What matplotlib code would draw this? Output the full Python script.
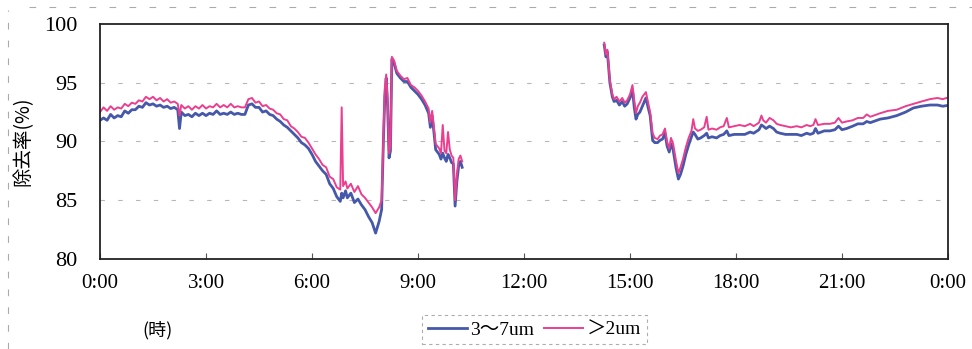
import numpy as np
import matplotlib.pyplot as plt
from matplotlib.lines import Line2D

# data (hours, removal rate %)
hours = [0.00, 0.10, 0.20, 0.30, 0.40, 0.50, 0.60, 0.70, 0.80, 0.90,
         1.00, 1.10, 1.20, 1.30, 1.40, 1.50, 1.60, 1.70, 1.80, 1.90,
         2.00, 2.10, 2.20, 2.25, 2.30, 2.40, 2.50, 2.60, 2.70, 2.80,
         2.90, 3.00, 3.10, 3.20, 3.30, 3.40, 3.50, 3.60, 3.70, 3.80,
         3.90, 4.00, 4.10, 4.20, 4.30, 4.40, 4.50, 4.60, 4.70, 4.80,
         4.90, 5.00, 5.10, 5.20, 5.30, 5.40, 5.50, 5.60, 5.70, 5.80,
         5.90, 6.00, 6.10, 6.20, 6.30, 6.40, 6.50, 6.60, 6.70, 6.80,
         6.84, 6.88, 6.95, 7.00, 7.10, 7.20, 7.30, 7.40, 7.50, 7.60,
         7.70, 7.80, 7.90, 7.97, 8.02, 8.06, 8.10, 8.14, 8.18, 8.22,
         8.26, 8.32, 8.40, 8.50, 8.60, 8.70, 8.80, 8.90, 9.00, 9.10,
         9.20, 9.30, 9.35, 9.40, 9.45, 9.50, 9.60, 9.65, 9.70, 9.75,
         9.80, 9.85, 9.90, 9.95, 10.00, 10.05, 10.10, 10.15, 10.20, 10.25,
         12.00,
         14.27, 14.32, 14.36, 14.43, 14.50, 14.55, 14.62, 14.70, 14.78, 14.85,
         14.92, 15.00, 15.07, 15.12, 15.17, 15.22, 15.28, 15.35, 15.45, 15.52,
         15.57, 15.64, 15.70, 15.78, 15.85, 15.92, 15.99, 16.05, 16.11, 16.16,
         16.22, 16.30, 16.37, 16.43, 16.50, 16.58, 16.66, 16.74, 16.79, 16.84,
         16.92, 17.00, 17.10, 17.17, 17.22, 17.32, 17.45, 17.55, 17.65, 17.74,
         17.80, 17.95, 18.10, 18.25, 18.40, 18.50, 18.65, 18.72, 18.77, 18.85,
         18.95, 19.06, 19.15, 19.25, 19.40, 19.55, 19.72, 19.85, 20.00, 20.10,
         20.19, 20.25, 20.32, 20.50, 20.66, 20.80, 20.90, 21.00, 21.13, 21.30,
         21.45, 21.60, 21.70, 21.80, 22.08, 22.30, 22.55, 22.80, 23.02, 23.25,
         23.49, 23.70, 23.85, 23.96]

rate_3_7 = [91.8, 92.0, 91.8, 92.3, 92.0, 92.2, 92.1, 92.6, 92.4, 92.7,
            92.7, 93.0, 92.9, 93.3, 93.1, 93.2, 93.0, 93.1, 92.9, 93.0,
            92.8, 92.9, 92.7, 91.1, 92.5, 92.2, 92.3, 92.1, 92.4, 92.2,
            92.4, 92.2, 92.4, 92.3, 92.6, 92.3, 92.4, 92.3, 92.5, 92.3,
            92.4, 92.3, 92.3, 93.1, 93.2, 92.9, 92.9, 92.5, 92.6, 92.3,
            92.2, 91.9, 91.7, 91.4, 91.2, 90.9, 90.6, 90.3, 89.9, 89.7,
            89.4, 88.9, 88.3, 87.9, 87.5, 87.2, 86.4, 86.0, 85.3, 84.9,
            85.6, 85.2, 85.8, 85.2, 85.6, 84.8, 85.1, 84.6, 84.2, 83.6,
            83.1, 82.2, 83.2, 84.2, 90.0, 93.8, 95.4, 93.0, 88.6, 89.2,
            97.0, 96.7, 95.8, 95.4, 95.1, 95.1, 94.6, 94.3, 94.0, 93.6,
            93.1, 92.4, 91.2, 92.2, 90.8, 89.3, 88.9, 88.5, 89.0, 88.6,
            88.3, 88.9, 88.6, 88.2, 88.1, 84.5, 86.6, 87.9, 88.3, 87.8,
            np.nan,
            98.2, 97.2, 97.6, 95.0, 93.8, 93.4, 93.5, 93.1, 93.4, 93.0,
            93.2, 93.7, 94.4, 92.9, 91.9, 92.3, 92.5, 93.0, 93.7, 92.8,
            92.2, 90.1, 89.9, 89.9, 90.1, 90.2, 90.7, 89.6, 89.1, 89.8,
            89.3, 87.8, 86.8, 87.2, 87.9, 88.9, 89.7, 90.4, 90.8, 90.6,
            90.2, 90.3, 90.5, 90.7, 90.3, 90.4, 90.3, 90.5, 90.6, 90.9,
            90.5, 90.6, 90.6, 90.6, 90.8, 90.7, 91.0, 91.4, 91.3, 91.1,
            91.3, 91.1, 90.8, 90.7, 90.6, 90.6, 90.6, 90.5, 90.7, 90.6,
            90.7, 91.1, 90.7, 90.9, 90.9, 91.0, 91.3, 91.0, 91.1, 91.3,
            91.5, 91.5, 91.7, 91.6, 91.9, 92.0, 92.2, 92.5, 92.85, 93.0,
            93.1, 93.1, 93.0, 93.05]

rate_2 = [92.5, 92.9, 92.6, 93.0, 92.7, 92.9, 92.8, 93.2, 93.0, 93.3,
          93.2, 93.5, 93.4, 93.8, 93.6, 93.8, 93.5, 93.7, 93.4, 93.6,
          93.3, 93.4, 93.2, 92.2, 93.1, 92.8, 93.0, 92.7, 93.0, 92.8,
          93.1, 92.8, 93.0, 92.9, 93.2, 92.9, 93.1, 92.9, 93.2, 92.9,
          93.0, 92.9, 92.9, 93.6, 93.7, 93.3, 93.4, 93.0, 93.1, 92.8,
          92.7, 92.4, 92.3, 91.9, 91.8, 91.3, 91.1, 90.8, 90.4, 90.3,
          89.9, 89.4, 88.9, 88.5, 88.0, 87.8, 87.0, 86.8, 86.1, 85.9,
          92.9, 86.2, 86.6, 86.0, 86.4, 85.7, 86.2, 85.5, 85.2, 84.8,
          84.4, 83.9, 84.4, 85.0, 90.3, 94.5, 95.7, 93.5, 89.0, 89.6,
          97.2, 96.9, 96.0, 95.6, 95.3, 95.4, 94.8, 94.6, 94.3, 93.9,
          93.4, 92.8, 91.6, 92.6, 91.2, 89.8, 89.4, 89.0, 91.4, 89.2,
          89.0, 90.8, 89.3, 88.8, 88.6, 85.0, 87.2, 88.5, 88.8, 88.3,
          np.nan,
          98.4, 97.4, 97.8, 95.2, 94.0, 93.6, 93.8, 93.4, 93.7, 93.3,
          93.5, 94.0, 94.8, 93.5, 92.4, 93.0, 93.3, 93.8, 94.2, 93.2,
          92.5, 90.7, 90.3, 90.2, 90.5, 90.6, 91.1, 90.0, 89.4, 90.3,
          89.8, 88.4, 87.3, 87.8, 88.5, 89.5, 90.3, 90.9, 91.9, 91.1,
          90.9, 91.0, 91.2, 92.1, 91.0, 91.1, 91.0, 91.2, 91.3, 92.0,
          91.2, 91.3, 91.4, 91.3, 91.5, 91.3, 91.6, 92.2, 91.8, 91.6,
          92.0, 91.8, 91.5, 91.4, 91.3, 91.2, 91.3, 91.2, 91.4, 91.3,
          91.4, 91.9, 91.4, 91.5, 91.5, 91.6, 92.0, 91.6, 91.7, 91.8,
          92.0, 92.0, 92.3, 92.1, 92.4, 92.6, 92.7, 93.0, 93.2, 93.4,
          93.6, 93.7, 93.6, 93.7]

xticks = [0, 3, 6, 9, 12, 15, 18, 21, 24]
xlabels = ['0:00', '3:00', '6:00', '9:00', '12:00', '15:00', '18:00', '21:00', '0:00']
yticks = [80, 85, 90, 95, 100]

serif = ['Liberation Serif', 'Noto Sans CJK JP']
blue = '#4658aa'
pink = '#ea3f8f'

fig = plt.figure(figsize=(9.72, 3.49), dpi=100)
ax = fig.add_axes([0.1029, 0.258, 0.8724, 0.6734])

ax.plot(hours, rate_3_7, color=blue, lw=2.0, label='3～7um')
ax.plot(hours, rate_2, color=pink, lw=1.4, label='＞2um')

ax.set_xlim(0, 24)
ax.set_ylim(80, 100)
ax.set_xticks(xticks)
ax.set_xticklabels(xlabels, family=serif, fontsize=15)
ax.set_yticks(yticks)
ax.set_yticklabels([str(v) for v in yticks], family=serif, fontsize=16)
ax.tick_params(axis='x', direction='in', length=4, pad=11, color='#555555')
ax.tick_params(axis='y', length=0, pad=16)

# broken grey gridlines like the scan
for g in [85, 90, 95]:
    ax.axhline(g, color='#999999', lw=0.8, ls=(0, (4, 12)), alpha=0.7, zorder=0)

for s in ax.spines.values():
    s.set_linewidth(1.3)
    s.set_color('#222222')

ax.set_ylabel('除去率(%)', family=['Noto Sans CJK JP'], fontsize=14, labelpad=8)

fig.text(0.162, 0.055, '(時)', family=['Noto Sans CJK JP', 'DejaVu Sans'],
         fontsize=13, ha='center', va='center')

handles = [Line2D([], [], color=blue, lw=2.0), Line2D([], [], color=pink, lw=1.4)]
leg = fig.legend(handles, ['3～7um', '＞2um'], loc='center', bbox_to_anchor=(0.55, 0.055),
                 ncol=2, frameon=True, fancybox=False, handlelength=2.0,
                 handletextpad=0.2, columnspacing=0.5, borderpad=0.3,
                 prop={'family': serif, 'size': 14})
leg.get_frame().set_edgecolor('#999999')
leg.get_frame().set_linestyle((0, (3, 3)))
leg.get_frame().set_linewidth(0.8)

# faint scan edge lines
fig.add_artist(Line2D([0.03, 1.0], [0.98, 0.98], transform=fig.transFigure,
                      color='#aaaaaa', lw=0.8, ls=(0, (6, 12))))
fig.add_artist(Line2D([0.008, 0.008], [0.0, 0.97], transform=fig.transFigure,
                      color='#aaaaaa', lw=0.8, ls=(0, (6, 10))))

fig.savefig('out.png', dpi=100)
